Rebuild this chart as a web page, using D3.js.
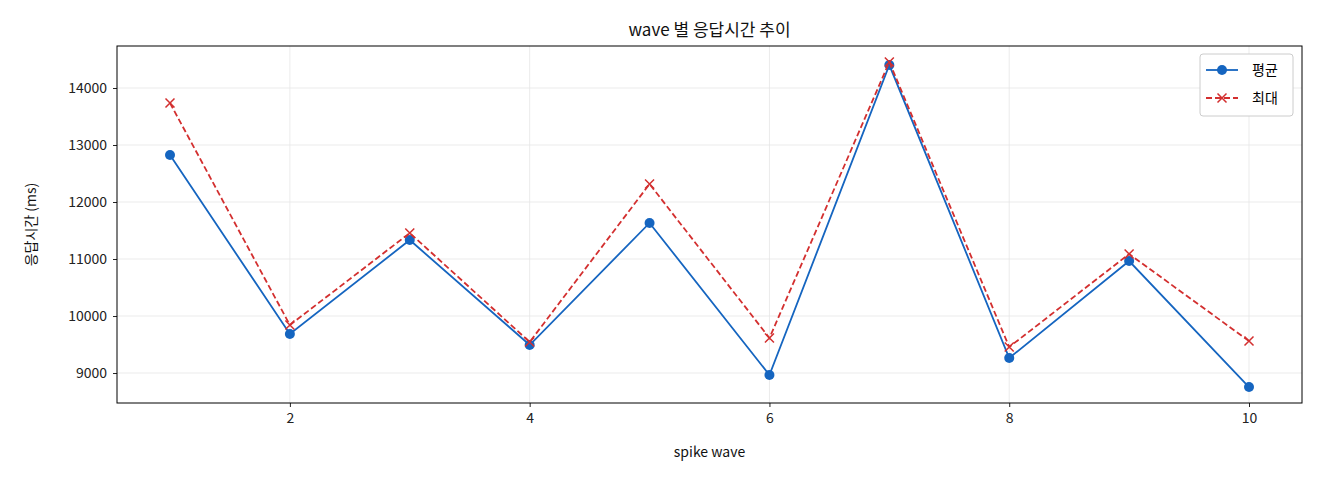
<!DOCTYPE html>
<html><head><meta charset="utf-8">
<script src="https://cdn.jsdelivr.net/npm/d3@7"></script>
<style>body{margin:0;background:#fff;font-family:"Noto Sans CJK KR","Noto Sans",sans-serif;}</style>
</head><body><svg id="c" width="1320" height="480"></svg>
<script>
const waves = [1,2,3,4,5,6,7,8,9,10];
const avgMs = [12825,9684,11333,9491,11632,8965,14403,9263,10965,8754];
const maxMs = [13737,9842,11456,9544,12316,9614,14456,9456,11088,9561];
const xTicks = [2,4,6,8,10];
const yTicks = [9000,10000,11000,12000,13000,14000];

const svg = d3.select("#c");
const L = 117, R = 1302, T = 46, B = 403;
const x = d3.scaleLinear().domain([0.558,10.442]).range([L,R]);
const y = d3.scaleLinear().domain([8474,14737]).range([B,T]);

// grid
svg.append("g").selectAll("line").data(xTicks).join("line")
  .attr("x1",d=>x(d)).attr("x2",d=>x(d)).attr("y1",T).attr("y2",B)
  .attr("stroke","#e6e6e6").attr("stroke-width",0.8);
svg.append("g").selectAll("line").data(yTicks).join("line")
  .attr("x1",L).attr("x2",R).attr("y1",d=>y(d)).attr("y2",d=>y(d))
  .attr("stroke","#e6e6e6").attr("stroke-width",0.8);

const xa = svg.append("g").attr("transform",`translate(0,${B})`)
  .call(d3.axisBottom(x).tickValues(xTicks).tickSize(4).tickPadding(6));
const ya = svg.append("g").attr("transform",`translate(${L},0)`)
  .call(d3.axisLeft(y).tickValues(yTicks).tickSize(4).tickPadding(6).tickFormat(d3.format("d")));
[xa,ya].forEach(a=>{a.select(".domain").remove();a.selectAll("text").attr("font-size",14).attr("fill","#222").attr("font-family","'Noto Sans CJK KR',sans-serif");a.selectAll("line").attr("stroke","#222");});

svg.append("rect").attr("x",L).attr("y",T).attr("width",R-L).attr("height",B-T)
  .attr("fill","none").attr("stroke","#000").attr("stroke-width",1);

const line = d3.line().x((d,i)=>x(waves[i])).y(d=>y(d));
svg.append("path").datum(avgMs).attr("d",line).attr("fill","none").attr("stroke","#1565c0").attr("stroke-width",1.8);
svg.append("g").selectAll("circle").data(avgMs).join("circle")
  .attr("cx",(d,i)=>x(waves[i])).attr("cy",d=>y(d)).attr("r",5).attr("fill","#1565c0");
svg.append("path").datum(maxMs).attr("d",line).attr("fill","none").attr("stroke","#d32f2f").attr("stroke-width",1.8).attr("stroke-dasharray","6,3");
const cross = (g,cx,cy,s)=>g.append("path").attr("d",`M${cx-s},${cy-s}L${cx+s},${cy+s}M${cx-s},${cy+s}L${cx+s},${cy-s}`).attr("stroke","#d32f2f").attr("stroke-width",1.5);
const xg = svg.append("g");
maxMs.forEach((d,i)=>cross(xg,x(waves[i]),y(d),4.5));

svg.append("text").attr("x",(L+R)/2).attr("y",36).attr("text-anchor","middle").attr("font-size",17).attr("fill","#111").text("wave 별 응답시간 추이");
svg.append("text").attr("x",(L+R)/2).attr("y",457).attr("text-anchor","middle").attr("font-size",14).attr("fill","#111").text("spike wave");
svg.append("text").attr("transform",`translate(36,${(T+B)/2}) rotate(-90)`).attr("text-anchor","middle").attr("font-size",14).attr("fill","#111").text("응답시간 (ms)");

// legend
const lg = svg.append("g").attr("transform","translate(1200,54)");
lg.append("rect").attr("width",93).attr("height",62).attr("rx",3).attr("fill","#fff").attr("stroke","#ccc");
lg.append("line").attr("x1",6).attr("x2",38).attr("y1",16).attr("y2",16).attr("stroke","#1565c0").attr("stroke-width",1.8);
lg.append("circle").attr("cx",22).attr("cy",16).attr("r",5).attr("fill","#1565c0");
lg.append("line").attr("x1",6).attr("x2",38).attr("y1",44).attr("y2",44).attr("stroke","#d32f2f").attr("stroke-width",1.8).attr("stroke-dasharray","6,3");
cross(lg,22,44,4.5);
lg.append("text").attr("x",52).attr("y",21).attr("font-size",14).text("평균");
lg.append("text").attr("x",52).attr("y",49).attr("font-size",14).text("최대");
</script></body></html>
